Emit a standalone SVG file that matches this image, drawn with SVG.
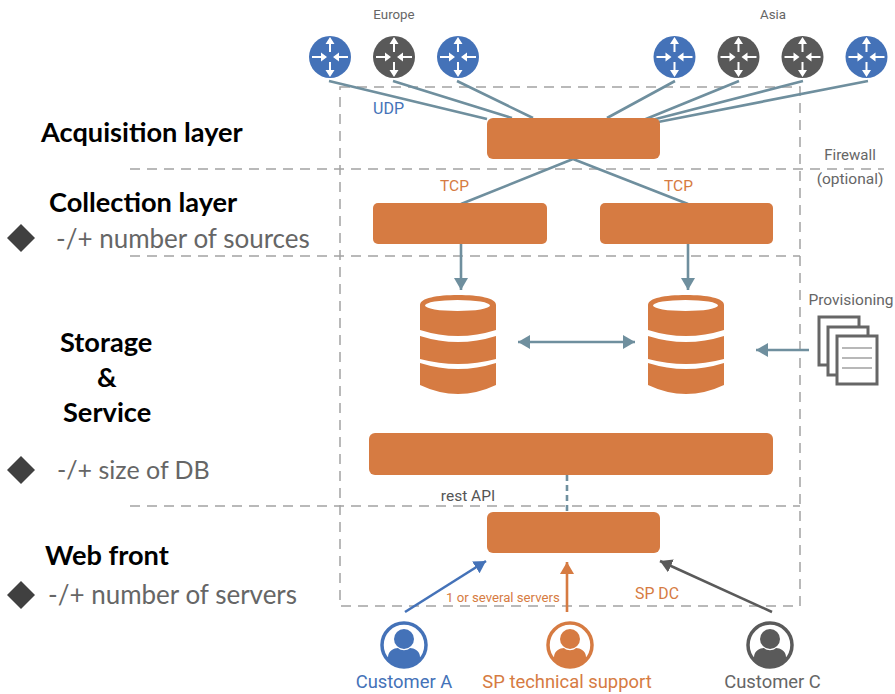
<svg xmlns="http://www.w3.org/2000/svg" xmlns:xlink="http://www.w3.org/1999/xlink" width="895" height="694" viewBox="0 0 895 694">
<style>
.box{fill:#d67b42}
.dash{fill:none;stroke:#a3a3a3;stroke-width:1.5;stroke-dasharray:10 7}
.link{fill:none;stroke:#6f8f9e;stroke-width:2.6}
.h{font-family:"Lato","Liberation Sans",sans-serif;font-weight:700;font-size:27.2px;fill:#000}
.n{font-family:"Lato","Liberation Sans",sans-serif;font-size:26px;fill:#666}
.r{font-family:"Roboto","Liberation Sans",sans-serif}
.d{fill:#404040}
</style>
<defs>
<marker id="aG" markerUnits="userSpaceOnUse" markerWidth="14" markerHeight="14" refX="12" refY="7" orient="auto-start-reverse"><path d="M0 0L12 7L0 14z" fill="#6f8f9e"/></marker>
<marker id="aB" markerUnits="userSpaceOnUse" markerWidth="14" markerHeight="14" refX="12" refY="7" orient="auto"><path d="M0 0L12 7L0 14z" fill="#4472b8"/></marker>
<marker id="aO" markerUnits="userSpaceOnUse" markerWidth="14" markerHeight="14" refX="12" refY="7" orient="auto"><path d="M0 0L12 7L0 14z" fill="#d67b42"/></marker>
<marker id="aD" markerUnits="userSpaceOnUse" markerWidth="14" markerHeight="14" refX="12" refY="7" orient="auto"><path d="M0 0L12 7L0 14z" fill="#5a5a5a"/></marker>
<g id="rt">
<circle r="21"/>
<g fill="none" stroke="#fff" stroke-width="2"><path d="M0-5V-16M0 5V16M-18 0H-6M18 0H6"/></g>
<g fill="#fff"><path d="M0-20L-4.5-13H4.5zM0 20L-4.5 13H4.5zM-3 0L-9-4.5V4.5zM3 0L9-4.5V4.5z"/></g>
</g>
<g id="db">
<path class="box" d="M0 10C0 3 17 0 38 0S76 3 76 10V35Q38 47 0 35z"/>
<ellipse cx="37.500" cy="10.500" rx="32.500" ry="5.500" fill="#fff"/>
<path class="box" d="M0 41Q38 53 76 41V64Q38 74 0 64z"/>
<path class="box" d="M0 68Q38 80 76 68V90Q38 108 0 90z"/>
</g>
<g id="pr">
<circle r="22" fill="#fff" stroke="currentColor" stroke-width="3.500"/>
<circle cy="-6" r="10" fill="currentColor"/>
<path d="M-16 12C-16 6-10 3-6 3C-3 6 3 6 6 3C10 3 16 6 16 12V15A22 22 0 0 1-16 15z" fill="currentColor"/>
</g>
<g id="pg"><rect width="40" height="48" fill="#fff" stroke="#666" stroke-width="3"/></g>
</defs>
<rect width="895" height="694" fill="#fff"/>
<g id="layers">
<path class="dash" d="M340 87H800V606H340z"/>
<path class="dash" d="M130 169H884M130 256H800M130 506H800"/>
</g>
<g id="connectors">
<path class="link" d="M329 81L487 119M393 81L512 118M457 81L533 118M675 81L607 118M739 81L641 121M803 81L652 120M868 81L658 122"/>
<path class="link" d="M573 159L461 204M573 159L688 204"/>
<path class="link" d="M461 244V290" marker-end="url(#aG)"/>
<path class="link" d="M688 244V290" marker-end="url(#aG)"/>
<path class="link" d="M518 342H635" marker-start="url(#aG)" marker-end="url(#aG)"/>
<path class="link" d="M809 350H756" marker-end="url(#aG)"/>
<path class="link" d="M567 475V512" stroke-dasharray="6 4"/>
<path d="M405 612L486 561" fill="none" stroke="#4472b8" stroke-width="2.600" marker-end="url(#aB)"/>
<path d="M567 612V562" fill="none" stroke="#d67b42" stroke-width="2.600" marker-end="url(#aO)"/>
<path d="M772 612L660 561" fill="none" stroke="#5a5a5a" stroke-width="2.600" marker-end="url(#aD)"/>
</g>
<g id="europe">
<text class="r" x="394" y="19" font-size="13.300" fill="#666" text-anchor="middle">Europe</text>
<use xlink:href="#rt" href="#rt" x="330" y="57" fill="#4472b8"/>
<use xlink:href="#rt" href="#rt" x="394" y="57" fill="#595959"/>
<use xlink:href="#rt" href="#rt" x="458" y="57" fill="#4472b8"/>
</g>
<g id="asia">
<text class="r" x="773" y="19" font-size="13.300" fill="#666" text-anchor="middle">Asia</text>
<use xlink:href="#rt" href="#rt" x="674.500" y="57" fill="#4472b8"/>
<use xlink:href="#rt" href="#rt" x="738.500" y="57" fill="#595959"/>
<use xlink:href="#rt" href="#rt" x="802.500" y="57" fill="#595959"/>
<use xlink:href="#rt" href="#rt" x="866.500" y="57" fill="#4472b8"/>
</g>
<g id="acq"><rect class="box" x="487" y="118" width="173" height="41" rx="6"/></g>
<g id="col1"><rect class="box" x="373" y="203" width="174" height="41" rx="5"/></g>
<g id="col2"><rect class="box" x="600" y="203" width="173" height="41" rx="5"/></g>
<g id="db1"><use xlink:href="#db" href="#db" x="420" y="295"/></g>
<g id="db2"><use xlink:href="#db" href="#db" x="648" y="295"/></g>
<g id="svc"><rect class="box" x="369" y="433" width="404" height="42" rx="6"/></g>
<g id="web"><rect class="box" x="487" y="512" width="173" height="41" rx="6"/></g>
<g id="prov">
<text class="r" x="851" y="305" font-size="15.500" fill="#666" text-anchor="middle">Provisioning</text>
<use xlink:href="#pg" href="#pg" x="819" y="317"/>
<use xlink:href="#pg" href="#pg" x="828" y="327"/>
<use xlink:href="#pg" href="#pg" x="837" y="336"/>
<path d="M842 348H872M842 358H872M842 368H872" stroke="#b8b8b8" stroke-width="2"/>
</g>
<g id="labels" class="r">
<text x="373" y="114" font-size="16" fill="#4472b8">UDP</text>
<text x="440" y="191" font-size="15.500" fill="#d67b42">TCP</text>
<text x="664" y="191" font-size="15.500" fill="#d67b42">TCP</text>
<text x="850" y="160" font-size="15" fill="#666" text-anchor="middle">Firewall</text>
<text x="850" y="184" font-size="15.500" fill="#666" text-anchor="middle">(optional)</text>
<text x="468" y="501" font-size="15.500" fill="#555" text-anchor="middle">rest API</text>
<text x="446" y="602" font-size="13.200" fill="#d67b42">1 or several servers</text>
<text x="635" y="599" font-size="15.800" fill="#d67b42">SP DC</text>
</g>
<g id="custA" color="#4472b8"><use xlink:href="#pr" href="#pr" x="404" y="645"/><text class="r" x="404" y="688" font-size="18.400" fill="#4472b8" text-anchor="middle">Customer A</text></g>
<g id="custB" color="#d67b42"><use xlink:href="#pr" href="#pr" x="570" y="645"/><text class="r" x="567" y="688" font-size="18.400" fill="#d67b42" text-anchor="middle">SP technical support</text></g>
<g id="custC" color="#5a5a5a"><use xlink:href="#pr" href="#pr" x="770" y="645"/><text class="r" x="772.500" y="688" font-size="18.400" fill="#666" text-anchor="middle">Customer C</text></g>
<g id="left">
<text class="h" x="41" y="142">Acquisition layer</text>
<text class="h" x="49" y="212">Collection layer</text>
<text class="n" x="56" y="248">-/+ number of sources</text>
<path class="d" d="M21 224L35 238L21 252L7 238z"/>
<text class="h" x="60" y="352">Storage</text>
<text class="h" x="97" y="387">&amp;</text>
<text class="h" x="63" y="422">Service</text>
<path class="d" d="M21 456L35 470L21 484L7 470z"/>
<text class="n" x="57" y="479" font-size="25px" style="font-size:25px">-/+ size of DB</text>
<text class="h" x="45" y="565">Web front</text>
<path class="d" d="M21 581L35 595L21 609L7 595z"/>
<text class="n" x="48" y="604">-/+ number of servers</text>
</g>
</svg>
